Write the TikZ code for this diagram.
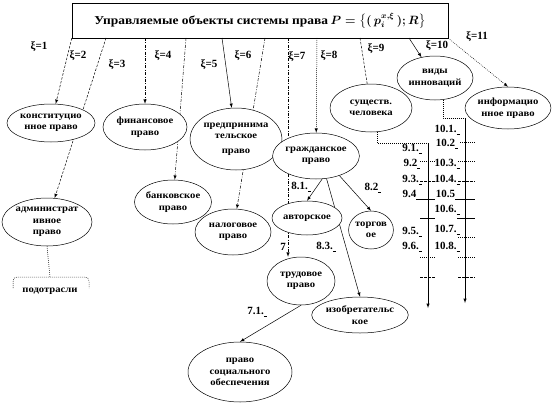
\documentclass[tikz,border=0pt]{standalone}
\usepackage{fontspec}
\setmainfont{Liberation Serif}
\newfontfamily\elfont[FakeStretch=1.12]{Liberation Serif}
\usepackage{tikz}
\usepackage{amsmath}
\usetikzlibrary{shapes.geometric}
\usetikzlibrary{backgrounds}

\newcommand{\numtag}[1]{#1\underline{\hbox to 3pt{}}}

\tikzset{
    zone/.style={ellipse, draw, fill=white, line width=0.5pt, inner sep=0pt, align=center,
        font=\elfont\bfseries\fontsize{9.5}{11.5}\selectfont},
    xilbl/.style={font=\bfseries\fontsize{11}{12}\selectfont, inner sep=0pt},
    numlbl/.style={font=\bfseries\fontsize{11}{12}\selectfont, inner sep=0pt},
    link/.style={line width=0.5pt},
    dsh/.style={dash pattern=on 2.5pt off 1.5pt},
    dshdot/.style={dash pattern=on 3pt off 1.5pt on 0.8pt off 1.5pt},
    dtt/.style={dash pattern=on 0.8pt off 1.2pt},
}

\begin{document}
\begin{tikzpicture}[x=1pt, y=-1pt]

        \useasboundingbox (0,0) rectangle (553,404);

        % title box
        \node[draw, link, minimum width=376, minimum height=35, inner sep=0pt] (box) at (260,20.5)
            {{\elfont\bfseries\fontsize{12}{13}\selectfont Управляемые объекты системы права}\
             {\fontsize{12}{13}\selectfont\boldmath$P=\big\{(\,p_i^{x,\xi}\,);R\big\}$}};

        \coordinate (s1) at (box.south west);
        \coordinate (s2) at (106,38);
        \coordinate (s3) at (145,38);
        \coordinate (s4) at (186,38);
        \coordinate (s5) at (222,38);
        \coordinate (s6) at (265,38);
        \coordinate (s7) at (288,38);
        \coordinate (s8) at (317,38);
        \coordinate (s9) at (360,38);
        \coordinate (s10) at (409,38);
        \coordinate (s11) at (box.south east);

        % branches
        \node[zone, minimum width=88, minimum height=38] (kon) at (51,123) {конституцио\\нное право};
        \node[zone, minimum width=90, minimum height=48] (adm) at (47,222) {администрат\\ивное\\право};
        \node[zone, minimum width=84, minimum height=46] (fin) at (145,127) {финансовое\\право};
        \node[zone, minimum width=76, minimum height=44] (bank) at (173,202) {банковское\\право};
        \node[zone, minimum width=86, minimum height=62] (pred) at (236,139) {предпринима\\тельское\\[3pt]право};
        \node[zone, minimum width=76, minimum height=46] (nal) at (233,232) {налоговое\\право};
        \node[zone, minimum width=78, minimum height=46] (grazh) at (316,156) {гражданское\\право};
        \node[zone, minimum width=70, minimum height=34] (avt) at (307,218) {авторское};
        \node[zone, minimum width=42, minimum height=38] (torg) at (371,230) {торгов\\ое};
        \node[zone, minimum width=68, minimum height=48] (trud) at (301,281) {трудовое\\право};
        \node[zone, minimum width=96, minimum height=36] (izobr) at (360,315) {изобретательс\\кое};
        \node[zone, minimum width=104, minimum height=60] (soc) at (240,372) {право\\социального\\обеспечения};
        \node[zone, minimum width=82, minimum height=48] (sush) at (371,108) {существ.\\человека};
        \node[zone, minimum width=76, minimum height=44] (vid) at (435,78) {виды\\инноваций};
        \node[zone, minimum width=82, minimum height=42] (inf) at (508,108) {информацио\\нное право};

        \node[font=\elfont\bfseries\fontsize{9.5}{11}\selectfont, inner sep=0pt] (podotr) at (50,291) {подотрасли};
        \coordinate (brtop) at (50,277);

        % xi labels
        \node[xilbl] (xi1) at (39,47) {ξ=1};
        \node[xilbl] (xi2) at (78,56) {ξ=2};
        \node[xilbl] (xi3) at (117,65) {ξ=3};
        \node[xilbl] (xi4) at (163,56) {ξ=4};
        \node[xilbl] (xi5) at (209,65) {ξ=5};
        \node[xilbl] (xi6) at (243,56) {ξ=6};
        \node[xilbl] (xi7) at (297,57) {ξ=7};
        \node[xilbl] (xi8) at (329,56) {ξ=8};
        \node[xilbl] (xi9) at (376,49) {ξ=9};
        \node[xilbl] (xi10) at (437,46) {ξ=10};
        \node[xilbl] (xi11) at (477,37) {ξ=11};

        % sub-branch labels
        \node[numlbl] (n81) at (301,187) {\numtag{8.1.}};
        \node[numlbl] (n82) at (373,188) {\numtag{8.2}};
        \node[numlbl] (n83) at (326,247) {\numtag{8.3.}};
        \node[numlbl] (n7) at (283,247) {7};
        \node[numlbl] (n71) at (257,312) {\numtag{7.1.}};

        \node[numlbl] (n91) at (412,149) {\numtag{9.1.}};
        \node[numlbl] (n92) at (412,164) {\numtag{9.2}};
        \node[numlbl] (n93) at (412,180) {\numtag{9.3.}};
        \node[numlbl] (n94) at (411,195) {\numtag{9.4}};
        \node[numlbl] (n95) at (412,232) {\numtag{9.5.}};
        \node[numlbl] (n96) at (412,247) {\numtag{9.6.}};

        \node[numlbl] (n101) at (447,130) {\numtag{10.1.}};
        \node[numlbl] (n102) at (447,144) {\numtag{10.2}};
        \node[numlbl] (n103) at (447,164) {\numtag{10.3.}};
        \node[numlbl] (n104) at (447,180) {\numtag{10.4.}};
        \node[numlbl] (n105) at (447,195) {\numtag{10.5}};
        \node[numlbl] (n106) at (447,210) {\numtag{10.6.}};
        \node[numlbl] (n107) at (447,230) {\numtag{10.7.}};
        \node[numlbl] (n108) at (447,247) {\numtag{10.8.}};

        \coordinate (c9top) at (428,143);
        \coordinate (c9bot) at (428,308);
        \coordinate (c10top) at (465,118);
        \coordinate (c10bot) at (465,303);

        \begin{scope}[on background layer]
            \draw[link, dsh, -latex] (s1) -- (kon);
            \draw[link, dsh, -latex] (s2) -- (adm);
            \draw[link, dshdot, -latex] (s3) -- (fin);
            \draw[link, dshdot, -latex] (s4) -- (bank);
            \draw[link, -latex] (s5) -- (pred);
            \draw[link, dshdot, -latex] (s6) -- (nal);
            \draw[link, dshdot, -latex] (s7) -- (s7 |- trud.north);
            \draw[link, dtt, -latex] (s8) -- (grazh);
            \draw[link, dsh] (s9) -- (sush);
            \draw[link, -latex] (s10) -- (vid);
            \draw[link, dtt, -latex] (s11) -- (inf.north);

            \draw[link, -latex] (grazh.-75) -- (avt.north);
            \draw[link, -latex] (grazh.-40) -- (torg.north);
            \draw[link, -latex] (grazh.-65) -- (izobr.north);
            \draw[link, -latex] (trud.south) -- (soc.north);

            \draw[link, dtt] (adm.south) -- (brtop);
        \end{scope}

        % bracket over the sub-branches
        \draw[link, dtt, rounded corners=4pt] (13,288) |- (brtop) -| (89,288);

        % lists 9 and 10
        \draw[link, dtt] (sush.-75) |- (c9top);
        \draw[link, -latex] (c9top) -- (c9bot);
        \draw[link, dtt] (vid.-70) |- (c10top);
        \draw[link, -latex] (c10top) -- (c10bot);

        \draw[link, dtt] (460,142) -- (475,142);
        \draw[link, dtt] (420,161) -- (435,161);
        \draw[link, dtt] (458,161) -- (475,161);
        \draw[link, dsh] (420,181) -- (435,181);
        \draw[link, dsh] (458,181) -- (475,181);
        \draw[link] (418,199) -- (435,199);
        \draw[link] (457,199) -- (475,199);
        \draw[link] (420,218) -- (435,218);
        \draw[link] (457,218) -- (475,218);
        \draw[link, dtt] (458,237) -- (475,237);
        \draw[link, dtt] (420,257) -- (435,257);
        \draw[link, dtt] (458,257) -- (475,257);
        \draw[link, dsh] (420,277) -- (435,277);
        \draw[link, dsh] (458,277) -- (475,277);

    \end{tikzpicture}
\end{document}
